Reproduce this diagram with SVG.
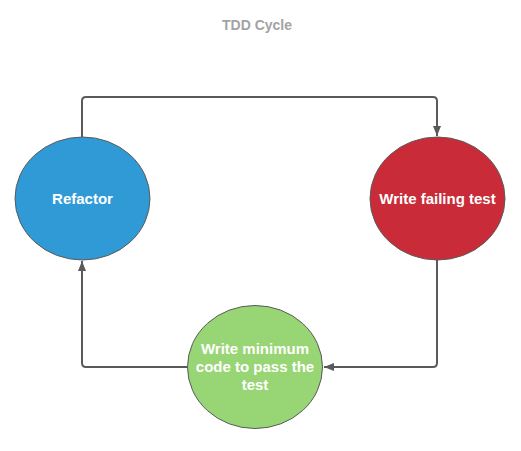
<svg xmlns="http://www.w3.org/2000/svg" width="521" height="451" viewBox="0 0 521 451">
<style>
.node{stroke:#5a5a5a;stroke-width:1}
.lbl{font-family:"Liberation Sans",Arial,sans-serif;font-weight:bold;font-size:15px;fill:#ffffff;text-anchor:middle}
.title{font-family:"Liberation Sans",Arial,sans-serif;font-weight:bold;font-size:14px;fill:#a3a3a3;text-anchor:middle}
.conn{fill:none;stroke:#5a5a5a;stroke-width:2}
</style>
<defs>
<marker id="arr" viewBox="0 0 10 10" refX="10" refY="5" markerWidth="10" markerHeight="10" markerUnits="userSpaceOnUse" orient="auto">
<path d="M0,1 L10,5 L0,9 Z" fill="#5a5a5a"/>
</marker>
</defs>
<rect width="521" height="451" fill="#ffffff"/>
<text class="title" x="257" y="30">TDD Cycle</text>
<g id="connectors">
<path class="conn" d="M82,137 V101 Q82,97 86,97 H433 Q437,97 437,101 V136" marker-end="url(#arr)"/>
<path class="conn" d="M437,260 V363 Q437,367 433,367 H324" marker-end="url(#arr)"/>
<path class="conn" d="M187,367 H86 Q82,367 82,363 V261" marker-end="url(#arr)"/>
</g>
<g id="refactor">
<ellipse class="node" cx="82.5" cy="198.5" rx="67.5" ry="61.5" fill="#2f9ad6"/>
<text class="lbl" x="82.5" y="204">Refactor</text>
</g>
<g id="write-failing-test">
<ellipse class="node" cx="437.5" cy="198.5" rx="67.5" ry="61.5" fill="#c92c38"/>
<text class="lbl" x="437.5" y="204">Write failing test</text>
</g>
<g id="write-minimum-code">
<ellipse class="node" cx="255" cy="367" rx="67.5" ry="61.5" fill="#98d574"/>
<text class="lbl" x="255" y="354">Write minimum</text>
<text class="lbl" x="255" y="372">code to pass the</text>
<text class="lbl" x="255" y="390">test</text>
</g>
</svg>
